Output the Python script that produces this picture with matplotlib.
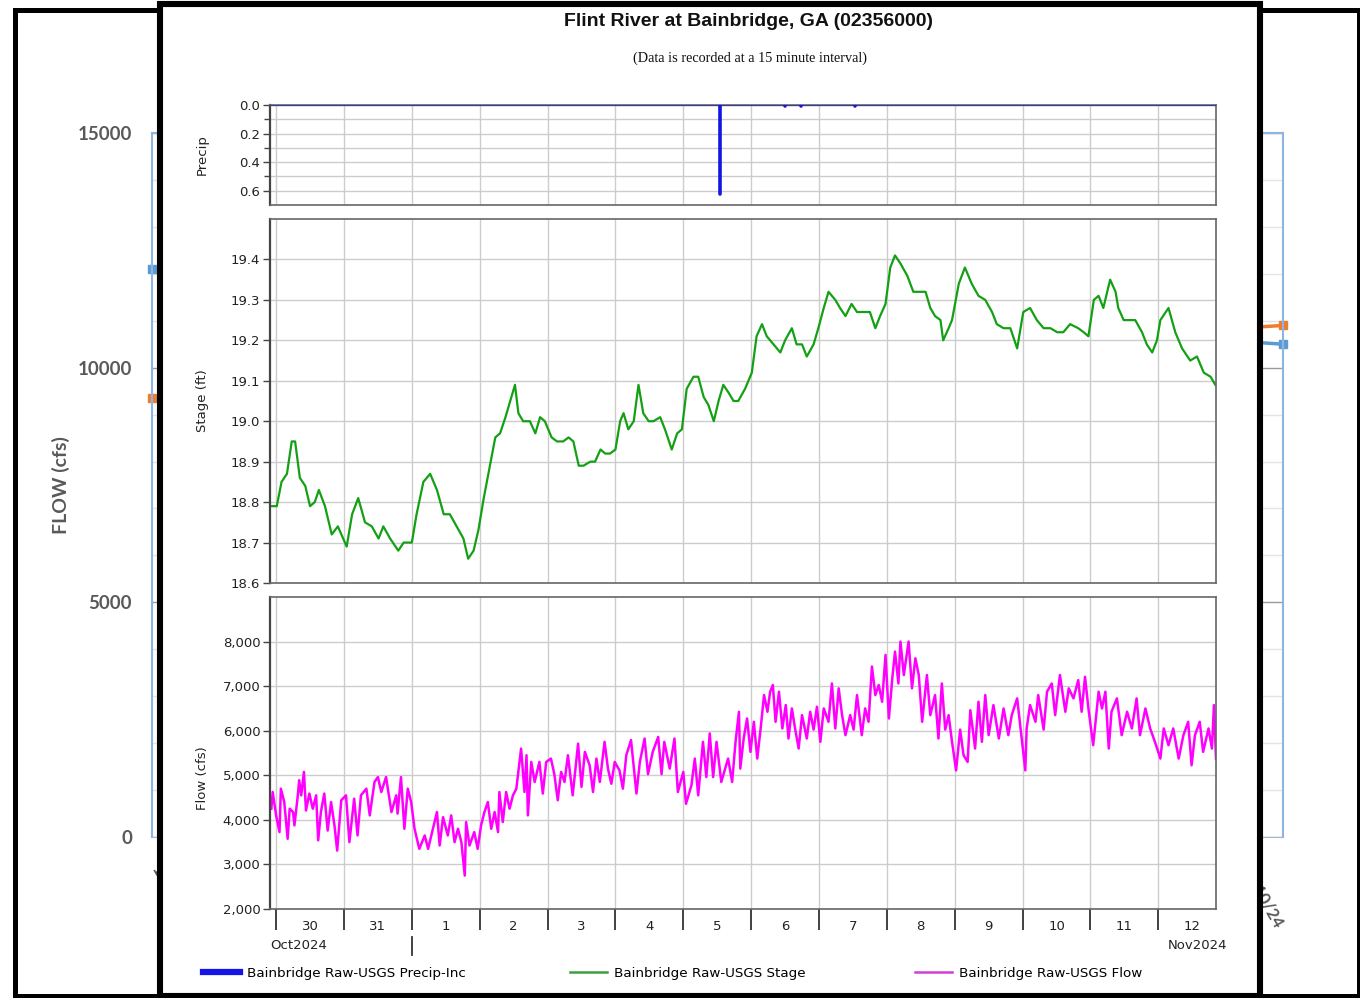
import matplotlib
matplotlib.use("Agg")
import matplotlib.pyplot as plt
from matplotlib.patches import Rectangle
from matplotlib.lines import Line2D
from matplotlib.ticker import FuncFormatter, MultipleLocator

# ---------------- data ----------------
# time axis: days since 30 Oct 2024 00:00
day_labels = ["30", "31", "1", "2", "3", "4", "5", "6", "7", "8", "9", "10", "11", "12"]
month_labels = ["Oct2024", "Nov2024"]
month_boundary = 2.0  # 1 Nov 2024

precip_t = [6.54, 7.50, 7.74, 8.53]
precip_v = [0.62, 0.01, 0.01, 0.01]

stage_t = [-0.09, 0.01, 0.08, 0.16, 0.23, 0.28, 0.35, 0.43, 0.50, 0.57,
           0.63, 0.72, 0.82, 0.91, 1.04, 1.12, 1.21, 1.31, 1.41, 1.51,
           1.58, 1.68, 1.80, 1.88, 2.00, 2.07, 2.17, 2.27, 2.37, 2.47,
           2.56, 2.66, 2.76, 2.83, 2.91, 2.98, 3.06, 3.15, 3.23, 3.30,
           3.38, 3.45, 3.52, 3.57, 3.64, 3.74, 3.82, 3.89, 3.96, 4.06,
           4.14, 4.23, 4.31, 4.38, 4.46, 4.53, 4.63, 4.70, 4.78, 4.85,
           4.92, 5.00, 5.07, 5.12, 5.19, 5.27, 5.34, 5.41, 5.49, 5.56,
           5.66, 5.73, 5.83, 5.91, 5.98, 6.05, 6.15, 6.22, 6.30, 6.37,
           6.45, 6.52, 6.59, 6.67, 6.74, 6.81, 6.91, 7.01, 7.08, 7.16,
           7.23, 7.33, 7.43, 7.50, 7.60, 7.67, 7.75, 7.82, 7.92, 7.99,
           8.07, 8.14, 8.24, 8.31, 8.39, 8.48, 8.56, 8.66, 8.75, 8.83,
           8.90, 8.98, 9.05, 9.12, 9.20, 9.30, 9.39, 9.49, 9.57, 9.64,
           9.71, 9.79, 9.83, 9.91, 9.96, 10.06, 10.15, 10.25, 10.35, 10.45,
           10.55, 10.62, 10.72, 10.82, 10.92, 11.01, 11.11, 11.21, 11.31, 11.41,
           11.51, 11.60, 11.70, 11.82, 11.90, 11.97, 12.05, 12.12, 12.19, 12.29,
           12.37, 12.41, 12.49, 12.59, 12.66, 12.76, 12.83, 12.91, 12.98, 13.03,
           13.15, 13.25, 13.35, 13.47, 13.57, 13.67, 13.77, 13.84]
stage_v = [18.79, 18.79, 18.85, 18.87, 18.95, 18.95, 18.86, 18.84, 18.79, 18.80,
           18.83, 18.79, 18.72, 18.74, 18.69, 18.77, 18.81, 18.75, 18.74, 18.71,
           18.74, 18.71, 18.68, 18.70, 18.70, 18.77, 18.85, 18.87, 18.83, 18.77,
           18.77, 18.74, 18.71, 18.66, 18.68, 18.73, 18.81, 18.89, 18.96, 18.97,
           19.01, 19.05, 19.09, 19.02, 19.00, 19.00, 18.97, 19.01, 19.00, 18.96,
           18.95, 18.95, 18.96, 18.95, 18.89, 18.89, 18.90, 18.90, 18.93, 18.92,
           18.92, 18.93, 19.00, 19.02, 18.98, 19.00, 19.09, 19.02, 19.00, 19.00,
           19.01, 18.98, 18.93, 18.97, 18.98, 19.08, 19.11, 19.11, 19.06, 19.04,
           19.00, 19.05, 19.09, 19.07, 19.05, 19.05, 19.08, 19.12, 19.21, 19.24,
           19.21, 19.19, 19.17, 19.20, 19.23, 19.19, 19.19, 19.16, 19.19, 19.23,
           19.28, 19.32, 19.30, 19.28, 19.26, 19.29, 19.27, 19.27, 19.27, 19.23,
           19.26, 19.29, 19.38, 19.41, 19.39, 19.36, 19.32, 19.32, 19.32, 19.28,
           19.26, 19.25, 19.20, 19.23, 19.25, 19.34, 19.38, 19.34, 19.31, 19.30,
           19.27, 19.24, 19.23, 19.23, 19.18, 19.27, 19.28, 19.25, 19.23, 19.23,
           19.22, 19.22, 19.24, 19.23, 19.22, 19.21, 19.30, 19.31, 19.28, 19.35,
           19.32, 19.28, 19.25, 19.25, 19.25, 19.22, 19.19, 19.17, 19.20, 19.25,
           19.28, 19.22, 19.18, 19.15, 19.16, 19.12, 19.11, 19.09]

flow_t = [-0.07, -0.05, 0.00, 0.05, 0.07, 0.12, 0.17, 0.20, 0.25, 0.27,
          0.32, 0.34, 0.37, 0.41, 0.44, 0.49, 0.54, 0.59, 0.62, 0.66,
          0.71, 0.76, 0.81, 0.86, 0.90, 0.96, 1.03, 1.08, 1.15, 1.20,
          1.25, 1.33, 1.38, 1.45, 1.50, 1.55, 1.62, 1.70, 1.77, 1.79,
          1.84, 1.89, 1.94, 1.99, 2.04, 2.11, 2.19, 2.24, 2.31, 2.37,
          2.41, 2.46, 2.53, 2.58, 2.63, 2.68, 2.73, 2.78, 2.80, 2.85,
          2.92, 2.97, 3.02, 3.07, 3.12, 3.17, 3.22, 3.27, 3.29, 3.34,
          3.39, 3.44, 3.49, 3.54, 3.61, 3.66, 3.69, 3.71, 3.76, 3.81,
          3.88, 3.93, 3.98, 4.05, 4.10, 4.15, 4.20, 4.25, 4.30, 4.37,
          4.45, 4.50, 4.55, 4.62, 4.67, 4.72, 4.77, 4.84, 4.89, 4.94,
          4.99, 5.06, 5.11, 5.16, 5.23, 5.31, 5.36, 5.43, 5.48, 5.55,
          5.63, 5.68, 5.72, 5.80, 5.87, 5.92, 6.00, 6.04, 6.12, 6.17,
          6.22, 6.29, 6.34, 6.39, 6.44, 6.49, 6.56, 6.66,
          6.72, 6.77, 6.82, 6.84, 6.89, 6.94, 6.99, 7.04, 7.09, 7.14,
          7.19, 7.24, 7.28, 7.32, 7.36, 7.41, 7.46, 7.51, 7.55, 7.60,
          7.65, 7.70, 7.75, 7.82, 7.87, 7.92, 7.97, 8.02, 8.07, 8.14,
          8.19, 8.24, 8.29, 8.34, 8.39, 8.46, 8.51, 8.56, 8.63, 8.68,
          8.73, 8.78, 8.83, 8.88, 8.93, 8.98, 9.03, 9.08, 9.12, 9.17,
          9.20, 9.25, 9.32, 9.37, 9.42, 9.47, 9.52, 9.59, 9.64, 9.71,
          9.76, 9.81, 9.86, 9.91, 9.96, 10.02, 10.08, 10.13, 10.19, 10.23,
          10.30, 10.35, 10.40, 10.45, 10.50, 10.57, 10.65, 10.72, 10.79, 10.84,
          10.92, 10.97, 11.04, 11.06, 11.11, 11.19, 11.23, 11.31, 11.36, 11.43,
          11.48, 11.55, 11.63, 11.68, 11.75, 11.82, 11.87, 11.92, 11.97, 12.04,
          12.12, 12.17, 12.22, 12.27, 12.31, 12.39, 12.46, 12.54, 12.61, 12.68,
          12.73, 12.81, 12.88, 12.95, 13.03, 13.08, 13.15, 13.22, 13.30, 13.37,
          13.44, 13.49, 13.54, 13.61, 13.66, 13.74, 13.79, 13.82, 13.85]
flow_v = [4250, 4625, 4100, 3725, 4700, 4400, 3575, 4250, 4175, 3875,
          4550, 4890, 4550, 5075, 4210, 4590, 4250, 4550, 3540, 4175,
          4590, 3760, 4400, 3875, 3310, 4440, 4550, 3500, 4475, 3650,
          4550, 4700, 4100, 4850, 4960, 4625, 4960, 4175, 4550, 4140,
          4960, 3800, 4700, 4400, 3800, 3350, 3650, 3350, 3800, 4175,
          3425, 4060, 3650, 4100, 3500, 3800, 3500, 2750, 3950, 3425,
          3725, 3350, 3875, 4175, 4400, 3800, 4175, 3725, 4625, 3950,
          4625, 4250, 4550, 4700, 5600, 4625, 5450, 4100, 5300, 4850,
          5300, 4590, 5300, 5375, 5025, 4440, 5075, 4850, 5450, 4550,
          5710, 4740, 5525, 5225, 4625, 5375, 4850, 5750, 5150, 4810,
          5300, 5110, 4700, 5450, 5790, 4590, 5300, 5825, 5025, 5525,
          5860, 5025, 5750, 5150, 5825, 4625, 5075, 4360, 4775, 5375,
          4550, 5750, 4960, 5940, 4960, 5750, 4850, 5375,
          4850, 5750, 6425, 5150, 5825, 6275, 5525, 6200, 5375, 6050,
          6800, 6425, 6875, 7025, 6200, 6875, 6050, 6575, 5825, 6500,
          6025, 5600, 6350, 5825, 6425, 6025, 6538, 5750, 6500, 6200,
          7060, 6050, 6950, 6350, 5900, 6350, 6025, 6800, 5900, 6500,
          6200, 7440, 6800, 7025, 6650, 7700, 6275, 7175, 7775, 7060,
          8000, 7250, 8000, 6950, 7625, 7250, 6200, 7250, 6350, 6800,
          5825, 7060, 6025, 6350, 5750, 5110, 6025, 5450, 5300, 6460,
          5600, 6650, 5750, 6800, 5900, 6575, 5825, 6500, 5900, 6350,
          6725, 6050, 5110, 6050, 6575, 6200, 6800, 6025, 6875, 7060,
          6350, 7250, 6425, 6950, 6725, 7135, 6425, 7210, 6500, 5675,
          6875, 6500, 6875, 5600, 6425, 6725, 5900, 6425, 6050, 6725,
          5900, 6500, 6050, 5750, 5375, 6050, 5675, 6050, 5375, 5900,
          6200, 5225, 5900, 6200, 5525, 6050, 5600, 6575, 5375]

# background (partly hidden) spreadsheet chart
bg_dates = ["10/30/24", "11/10/24"]
bg_blue = [12100, 10500]
bg_orange = [9350, 10900]
bg_yticks = [0, 5000, 10000, 15000]

title = "Flint River at Bainbridge, GA (02356000)"
subtitle = "(Data is recorded at a 15 minute interval)"
legend_labels = ["Bainbridge Raw-USGS Precip-Inc", "Bainbridge Raw-USGS Stage",
                 "Bainbridge Raw-USGS Flow"]

# ---------------- layout helpers ----------------
W, H = 1360, 998
fig = plt.figure(figsize=(W / 100, H / 100), dpi=100)
fig.patch.set_facecolor("white")


def fx(px):
    return px / W


def fy(py):
    return 1 - py / H


# ---------------- background chart ----------------
fig.add_artist(Rectangle((fx(14.5), fy(995.5)), fx(1358.5) - fx(14.5), fy(10) - fy(995.5),
                         transform=fig.transFigure, fc="white", ec="black", lw=3.6, zorder=-1))

bg = fig.add_axes([fx(152), fy(837), fx(1283) - fx(152), (837 - 133) / H], zorder=0)
bg.set_facecolor("none")
bg.set_xlim(0, 1)
bg.set_ylim(0, 15000)
for s in ["left", "right", "top"]:
    bg.spines[s].set_color("#8db4e2")
    bg.spines[s].set_linewidth(1.5)
bg.spines["bottom"].set_color("#a8b8c8")
bg.set_xticks([])
bg.set_yticks(bg_yticks)
bg.yaxis.set_minor_locator(MultipleLocator(1000))
bg.grid(which="major", axis="y", color="#9a9a9a", lw=1)
bg.grid(which="minor", axis="y", color="#e4e4e4", lw=1)
bg.tick_params(axis="y", which="both", length=0, pad=14.4)
for lab in bg.get_yticklabels():
    lab.set_fontfamily("Lato")
    lab.set_fontweight("bold")
    lab.set_fontsize(13.5)
    lab.set_color("#595959")
bg.set_ylabel("FLOW (cfs)", fontfamily="Lato", fontweight="bold", fontsize=14, color="#595959")
bg.yaxis.set_label_coords(-0.0725, 0.5)
xs = [i / (len(bg_dates) - 1) for i in range(len(bg_dates))]
bg.plot(xs, bg_blue, color="#5b9bd5", lw=2.5, marker="s", ms=6, clip_on=False)
bg.plot(xs, bg_orange, color="#ed7d31", lw=2.5, marker="s", ms=6, clip_on=False)
bg.text(0.0097, -0.036, bg_dates[0], transform=bg.transAxes, rotation=-60,
        rotation_mode="anchor", ha="left", va="top", fontsize=12,
        fontfamily="Lato", fontweight="bold", color="#595959", clip_on=False)
bg.text(0.9708, -0.0327, bg_dates[1], transform=bg.transAxes, rotation=-60,
        rotation_mode="anchor", ha="left", va="top", fontsize=12,
        fontfamily="Lato", fontweight="bold", color="#595959", clip_on=False)

# ---------------- overlay panel ----------------
fig.add_artist(Rectangle((fx(160), fy(995.5)), fx(1260) - fx(160), fy(4) - fy(995.5),
                         transform=fig.transFigure, fc="white", ec="black", lw=4.4, zorder=1))

fig.text(fx(748), fy(21), title, ha="center", va="center", fontsize=14,
         fontweight="bold", fontfamily="Liberation Sans", color="#111111", zorder=3)
fig.text(fx(750), fy(58), subtitle, ha="center", va="center", fontsize=10.3,
         fontfamily="Liberation Serif", color="#111111", zorder=3)

x0, x1 = -0.09, 13.85
left, width = fx(270), 946 / W
axp = fig.add_axes([left, fy(205), width, 100 / H], zorder=2)
axs = fig.add_axes([left, fy(583), width, 364 / H], zorder=2)
axf = fig.add_axes([left, fy(909), width, 312 / H], zorder=2)

tick_font = dict(fontfamily="DejaVu Sans", fontsize=9.5, color="#222222")
for ax in (axp, axs, axf):
    ax.set_facecolor("white")
    ax.set_xlim(x0, x1)
    ax.set_xticks(range(len(day_labels)))
    ax.grid(which="major", color="#cccccc", lw=1)
    ax.set_axisbelow(True)
    for s in ax.spines.values():
        s.set_color("#666666")
        s.set_linewidth(1.2)
    ax.spines["left"].set_color("#444444")
    ax.spines["left"].set_linewidth(1.6)
    ax.tick_params(axis="y", which="both", length=5, width=1, color="#444444",
                   labelsize=9.5, labelcolor="#222222", pad=2)
for ax in (axp, axs):
    ax.tick_params(axis="x", which="both", length=0, labelbottom=False)

# precip
axp.set_ylim(0.7, 0)
axp.set_yticks([0, 0.2, 0.4, 0.6])
axp.set_yticks([0.1, 0.3, 0.5], minor=True)
axp.grid(which="minor", axis="y", color="#cccccc", lw=1)
axp.tick_params(axis="y", which="minor", length=4)
axp.yaxis.set_major_formatter(FuncFormatter(lambda v, p: f"{v:.1f}"))
axp.axhline(0, color="#3a3a9a", lw=1.6, zorder=3)
axp.vlines(precip_t, 0, precip_v, color="#1414e6", lw=2.6, capstyle="round", zorder=4)
axp.set_ylabel("Precip", **tick_font)
axp.yaxis.set_label_coords(-0.0645, 0.5)

# stage
axs.set_ylim(18.6, 19.5)
axs.set_yticks([18.6 + 0.1 * i for i in range(9)])
axs.yaxis.set_major_formatter(FuncFormatter(lambda v, p: f"{v:.1f}"))
axs.plot(stage_t, stage_v, color="#14a014", lw=1.6)
axs.set_ylabel("Stage (ft)", **tick_font)
axs.yaxis.set_label_coords(-0.0645, 0.5)

# flow
axf.set_ylim(2000, 9000)
axf.set_yticks(range(2000, 8001, 1000))
axf.yaxis.set_major_formatter(FuncFormatter(lambda v, p: f"{int(v):,}"))
axf.plot(flow_t, flow_v, color="#ff00ff", lw=1.8)
axf.set_ylabel("Flow (cfs)", **tick_font)
axf.yaxis.set_label_coords(-0.0645, 0.42)

axf.set_xticklabels([])
axf.set_xticks([i + 0.5 for i in range(len(day_labels))], minor=True)
axf.set_xticklabels(day_labels, minor=True)
axf.tick_params(axis="x", which="major", length=15, width=1.3, color="#333333", direction="out")
axf.tick_params(axis="x", which="minor", length=0, pad=8, labelsize=9.5, labelcolor="#222222")

axf.text(0.0, -0.1154, month_labels[0], transform=axf.transAxes, ha="left", va="center",
         **tick_font)
axf.text(0.98, -0.1154, month_labels[1], transform=axf.transAxes, ha="center", va="center",
         **tick_font)
axf.axvline(month_boundary, ymin=-0.147, ymax=-0.09, clip_on=False, color="#333333", lw=1.3)

# legend: three entries placed where the reference puts them
handles = [Line2D([], [], color="#1414e6", lw=4.5),
           Line2D([], [], color="#3ca03c", lw=1.8),
           Line2D([], [], color="#d040d8", lw=1.8)]
for h, lab, px in zip(handles, legend_labels, [203, 570, 915]):
    fig.legend([h], [lab], loc="center left", bbox_to_anchor=(fx(px), fy(973)),
               frameon=False, handlelength=2.75, handletextpad=0.55,
               borderpad=0, borderaxespad=0,
               prop={"family": "DejaVu Sans", "size": 9.7})

fig.savefig("out.png", dpi=100)
